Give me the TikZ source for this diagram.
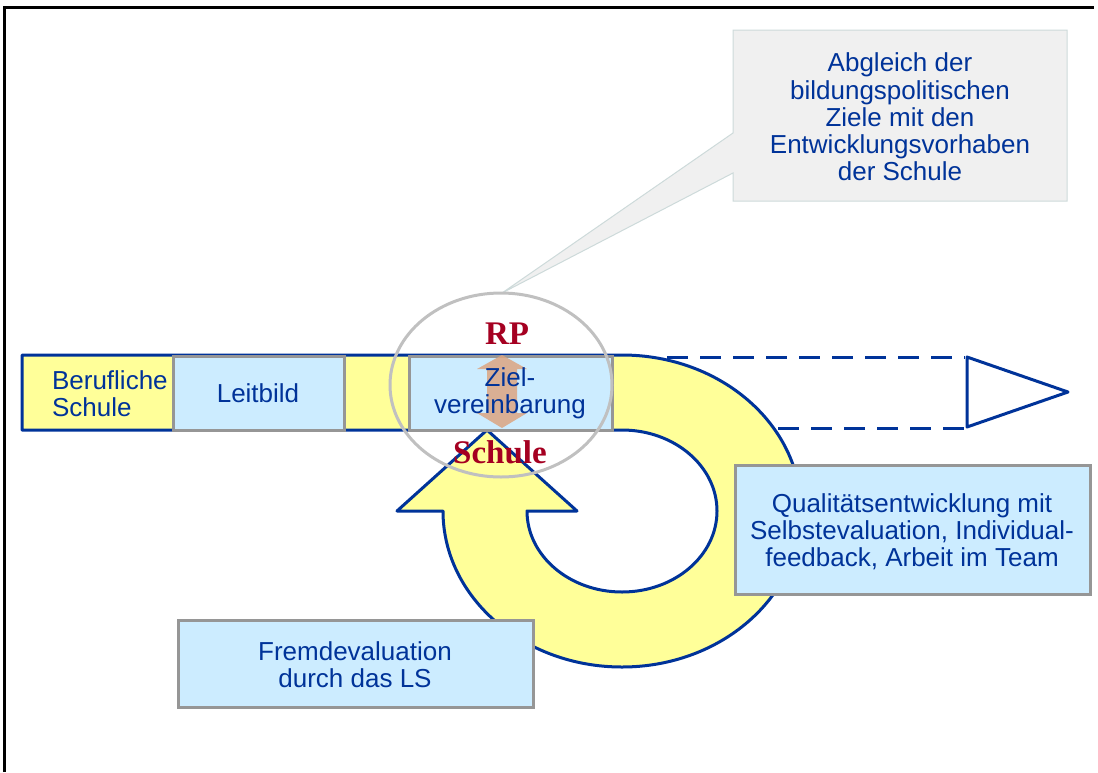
\documentclass[tikz,border=0pt]{standalone}
\usepackage{fontspec}
\setmainfont{Liberation Serif}
\setsansfont{Liberation Sans}
\usetikzlibrary{calc,arrows.meta}

\definecolor{ringyellow}{RGB}{255,255,153}
\definecolor{lsblue}{RGB}{0,51,153}
\definecolor{boxblue}{RGB}{204,236,255}
\definecolor{boxgray}{RGB}{150,150,150}
\definecolor{rpred}{RGB}{165,0,33}
\definecolor{notegray}{RGB}{240,240,240}
\definecolor{noteedge}{RGB}{205,218,218}
\definecolor{ringgray}{RGB}{192,192,192}
\definecolor{swaptan}{RGB}{220,165,130}

\tikzset{
  lstext/.style={font=\sffamily\fontsize{13}{13.6}\selectfont, text=lsblue, align=center},
  lsbox/.style={draw=boxgray, line width=1.5pt, fill=boxblue},
  rptext/.style={font=\rmfamily\bfseries\fontsize{16.5}{18}\selectfont, text=rpred},
  bluepath/.style={draw=lsblue, line width=1.5pt, line join=round},
}

\begin{document}
\begin{tikzpicture}[x=0.5pt,y=0.5pt]
\useasboundingbox (0,0) rectangle (1098,-772);
\draw[line width=1.5pt] (4,-772) -- (4,-7) -- (1094,-7); %frame

%callout with tail
\filldraw[fill=notegray, draw=noteedge, line width=0.5pt] (733,-30) -- (1067,-30) -- (1067,-201) -- (733,-201) -- (733,-173) -- (502,-293) -- (733,-133) -- cycle;
\node[lstext] (abgleich) at (900,-117) {Abgleich der\\bildungspolitischen\\Ziele mit den\\Entwicklungsvorhaben\\der Schule};

%dashed arrow to the right
\draw[bluepath, dash pattern=on 10.5pt off 6pt] (667,-357) -- (965,-357);
\draw[bluepath, dash pattern=on 10.5pt off 6pt] (778,-428) -- (965,-428);
\filldraw[bluepath, fill=white] (967,-357) -- (967,-427) -- (1068,-392) -- cycle;

%bar and ring with arrow head
\filldraw[bluepath, fill=ringyellow] (622,-430) -- (22,-430) -- (22,-355) -- (622,-355)
  arc[start angle=90, end angle=-180, x radius=179, y radius=156]
  -- (397,-511) -- (487,-430) -- (577,-511) -- (527,-511)
  arc[start angle=180, end angle=450, x radius=95, y radius=81] -- cycle;

\node[lstext, align=left, anchor=west] (beruf) at (45,-394) {Berufliche\\Schule};
\draw[lsbox] (173,-356) rectangle (344,-430);
\node[lstext] (leitbild) at (258,-393) {Leitbild};
\draw[lsbox] (409,-356) rectangle (612,-430);
\fill[swaptan, opacity=0.85] (502,-355) -- (527,-369) -- (517,-369) -- (517,-413) -- (527,-413) -- (502,-428) -- (477,-413) -- (487,-413) -- (487,-369) -- (477,-369) -- cycle; %up-down
\node[lstext] (ziel) at (510,-393) {Ziel-\\vereinbarung};

\draw[ringgray, line width=1.5pt] (501,-385) ellipse [x radius=111, y radius=92];
\node[rptext] (rp) at (507,-334) {RP};
\node[rptext] (schule) at (500,-452) {Schule};

%boxes on the ring
\draw[lsbox] (735,-465) rectangle (1090,-594);
\node[lstext] (quali) at (912,-532) {Qualitätsentwicklung mit\\Selbstevaluation, Individual-\\feedback, Arbeit im Team};
\draw[lsbox] (178,-620) rectangle (533,-707);
\node[lstext] (fremd) at (355,-665) {Fremdevaluation\\durch das LS};
\end{tikzpicture}
\end{document}
